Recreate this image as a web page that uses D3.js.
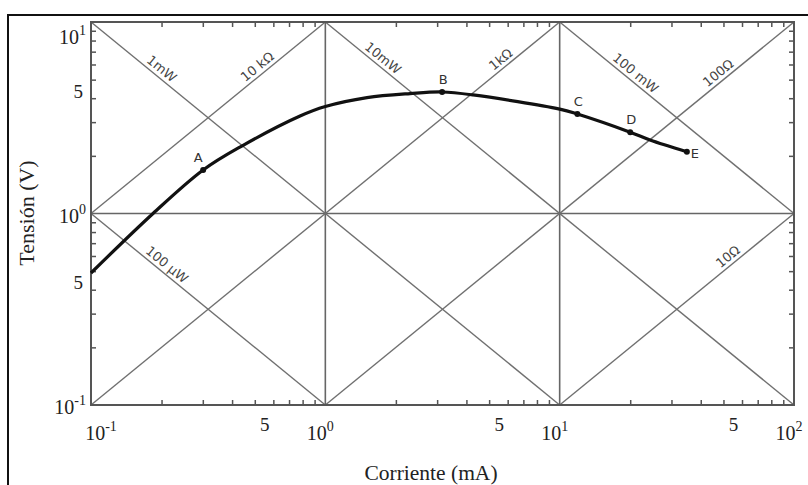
<!DOCTYPE html>
<html><head><meta charset="utf-8">
<script src="https://cdn.jsdelivr.net/npm/d3@7"></script>
<style>body{margin:0;background:#fff} svg{display:block}</style>
</head><body><svg id="c" width="808" height="485"></svg>
<script>
// ---- data ----
const current = [0.1, 0.184, 0.301, 0.44, 0.78, 1, 1.506, 2.30, 3.15, 4.27, 10, 11.9, 20, 24.3, 34.9];   // mA
const voltage = [0.489, 1, 1.687, 2.25, 3.23, 3.62, 4.03, 4.23, 4.31, 4.16, 3.51, 3.31, 2.66, 2.42, 2.10]; // V

const pointNames   = ["A", "B", "C", "D", "E"];
const pointCurrent = [0.301, 3.15, 11.9, 20, 34.9];
const pointVoltage = [1.687, 4.31, 3.31, 2.66, 2.10];

const powerValues  = [0.1, 1, 10, 100];            // mW
const powerLabels  = ["100 µW", "1mW", "10mW", "100 mW"];
const powerLabelAt = [0.2, 0.19, 1.67, 20];         // current (mA) where label sits
const resistValues  = [10, 1, 0.1, 0.01];           // kΩ
const resistLabels  = ["10 kΩ", "1kΩ", "100Ω", "10Ω"];
const resistLabelAt = [0.54, 5.9, 50, 55];

const xTickValues = [0.1, 0.5, 1, 5, 10, 50, 100];
const xTickLabels = ["10^-1", "5", "10^0", "5", "10^1", "5", "10^2"];
const yTickValues = [10, 5, 1, 0.5, 0.1];
const yTickLabels = ["10^1", "5", "10^0", "5", "10^-1"];
const xGrid = [1, 10];
const yGrid = [1];
const xTitle = "Corriente (mA)";
const yTitle = "Tensión (V)";

// ---- scales ----
const svg = d3.select("#c");
const x = d3.scaleLog().domain([0.1, 100]).range([91, 794]);
const y = d3.scaleLog().domain([0.1, 10]).range([405, 22]);

// outer frame (top and left visible)
svg.append("path").attr("d", "M8,485V15H808").attr("fill", "none").attr("stroke", "#111").attr("stroke-width", 2);

const gridColor = "#666";
svg.selectAll(".gx").data(xGrid).join("line")
  .attr("x1", d => x(d)).attr("x2", d => x(d)).attr("y1", y(10)).attr("y2", y(0.1))
  .attr("stroke", gridColor).attr("stroke-width", 1.6);
svg.selectAll(".gy").data(yGrid).join("line")
  .attr("y1", d => y(d)).attr("y2", d => y(d)).attr("x1", x(0.1)).attr("x2", x(100))
  .attr("stroke", gridColor).attr("stroke-width", 1.6);

// diagonal power / resistance lines
const diagColor = "#707070";
const pSeg = powerValues.map(P => {
  const i0 = Math.max(0.1, P / 10), i1 = Math.min(100, P / 0.1);
  return [[i0, P / i0], [i1, P / i1]];
});
const rSeg = resistValues.map(R => {
  const i0 = Math.max(0.1, 0.1 / R), i1 = Math.min(100, 10 / R);
  return [[i0, R * i0], [i1, R * i1]];
});
svg.selectAll(".diag").data(pSeg.concat(rSeg)).join("line")
  .attr("x1", d => x(d[0][0])).attr("y1", d => y(d[0][1]))
  .attr("x2", d => x(d[1][0])).attr("y2", d => y(d[1][1]))
  .attr("stroke", diagColor).attr("stroke-width", 1.4);

const ang = Math.atan2(y(0.1) - y(1), x(10) - x(1)) * 180 / Math.PI;
const labStyle = s => s.attr("font-family", "DejaVu Sans, sans-serif").attr("font-size", 13)
  .attr("fill", "#444").attr("text-anchor", "middle");
powerValues.forEach((P, k) => {
  const I = powerLabelAt[k];
  svg.append("text").call(labStyle)
    .attr("transform", `translate(${x(I)},${y(P / I)}) rotate(${ang})`)
    .attr("dy", -4).text(powerLabels[k]);
});
resistValues.forEach((R, k) => {
  const I = resistLabelAt[k];
  svg.append("text").call(labStyle)
    .attr("transform", `translate(${x(I)},${y(R * I)}) rotate(${-ang})`)
    .attr("dy", -4).text(resistLabels[k]);
});

// axis box
svg.append("rect").attr("x", x(0.1)).attr("y", y(10))
  .attr("width", x(100) - x(0.1)).attr("height", y(0.1) - y(10))
  .attr("fill", "none").attr("stroke", "#555").attr("stroke-width", 2);

// minor ticks on all four sides (inward)
const minorX = [], minorY = [];
[0.1, 1, 10].forEach(d => { for (let m = 2; m <= 9; m++) minorX.push(d * m); });
[0.1, 1].forEach(d => { for (let m = 2; m <= 9; m++) minorY.push(d * m); });
const tk = 5;
function styleAxis(g) { g.select(".domain").remove(); g.selectAll("line").attr("stroke", "#555").attr("stroke-width", 1.5); }
svg.append("g").attr("transform", `translate(0,${y(0.1)})`)
  .call(d3.axisBottom(x).tickValues(minorX).tickSize(-tk).tickFormat("")).call(styleAxis);
svg.append("g").attr("transform", `translate(0,${y(10)})`)
  .call(d3.axisTop(x).tickValues(minorX).tickSize(-tk).tickFormat("")).call(styleAxis);
svg.append("g").attr("transform", `translate(${x(0.1)},0)`)
  .call(d3.axisLeft(y).tickValues(minorY).tickSize(-tk).tickFormat("")).call(styleAxis);
svg.append("g").attr("transform", `translate(${x(100)},0)`)
  .call(d3.axisRight(y).tickValues(minorY).tickSize(-tk).tickFormat("")).call(styleAxis);

// tick labels
const serif = "Liberation Serif, Times New Roman, serif";
function writeLabel(t, lab) {
  const parts = lab.split("^");
  t.append("tspan").text(parts[0]);
  if (parts[1]) t.append("tspan").attr("font-size", 14).attr("dy", -9).text(parts[1]);
}
xTickValues.forEach((v, k) => {
  const lab = xTickLabels[k];
  const isDec = lab.includes("^");
  const t = svg.append("text").attr("font-family", serif).attr("fill", "#222")
    .attr("font-size", isDec ? 20 : 19)
    .attr("text-anchor", "middle")
    .attr("x", x(v) + (isDec ? (k === 0 ? 10 : -5) : 10))
    .attr("y", isDec ? 440 : 431);
  writeLabel(t, lab);
});
yTickValues.forEach((v, k) => {
  const lab = yTickLabels[k];
  const isDec = lab.includes("^");
  const t = svg.append("text").attr("font-family", serif).attr("fill", "#222")
    .attr("font-size", isDec ? 20 : 19)
    .attr("text-anchor", "end")
    .attr("x", isDec ? 86 : 83)
    .attr("y", isDec ? Math.max(y(v) + 9, 44) : y(v) + 18);
  writeLabel(t, lab);
});

// axis titles
svg.append("text").attr("font-family", serif).attr("font-size", 21.5).attr("fill", "#222")
  .attr("text-anchor", "middle").attr("x", 431).attr("y", 480).text(xTitle);
svg.append("text").attr("font-family", serif).attr("font-size", 22).attr("fill", "#222")
  .attr("text-anchor", "middle").attr("transform", "translate(34,213) rotate(-90)").text(yTitle);

// curve
const line = d3.line().x(d => x(d[0])).y(d => y(d[1])).curve(d3.curveCatmullRom.alpha(0.5));
svg.append("path").datum(current.map((c, i) => [c, voltage[i]]))
  .attr("d", line).attr("fill", "none").attr("stroke", "#111").attr("stroke-width", 3.2);

// marked points
const pts = pointNames.map((n, i) => ({ n, I: pointCurrent[i], V: pointVoltage[i] }));
svg.selectAll(".pt").data(pts).join("circle")
  .attr("cx", d => x(d.I)).attr("cy", d => y(d.V)).attr("r", 3).attr("fill", "#111");
svg.selectAll(".ptl").data(pts).join("text")
  .attr("font-family", "DejaVu Sans, sans-serif").attr("font-size", 13).attr("fill", "#333")
  .attr("text-anchor", d => d.n === "E" ? "start" : "middle")
  .attr("x", d => x(d.I) + (d.n === "E" ? 4 : d.n === "A" ? -5 : 1))
  .attr("y", d => y(d.V) + (d.n === "E" ? 6 : -8))
  .text(d => d.n);
</script></body></html>
